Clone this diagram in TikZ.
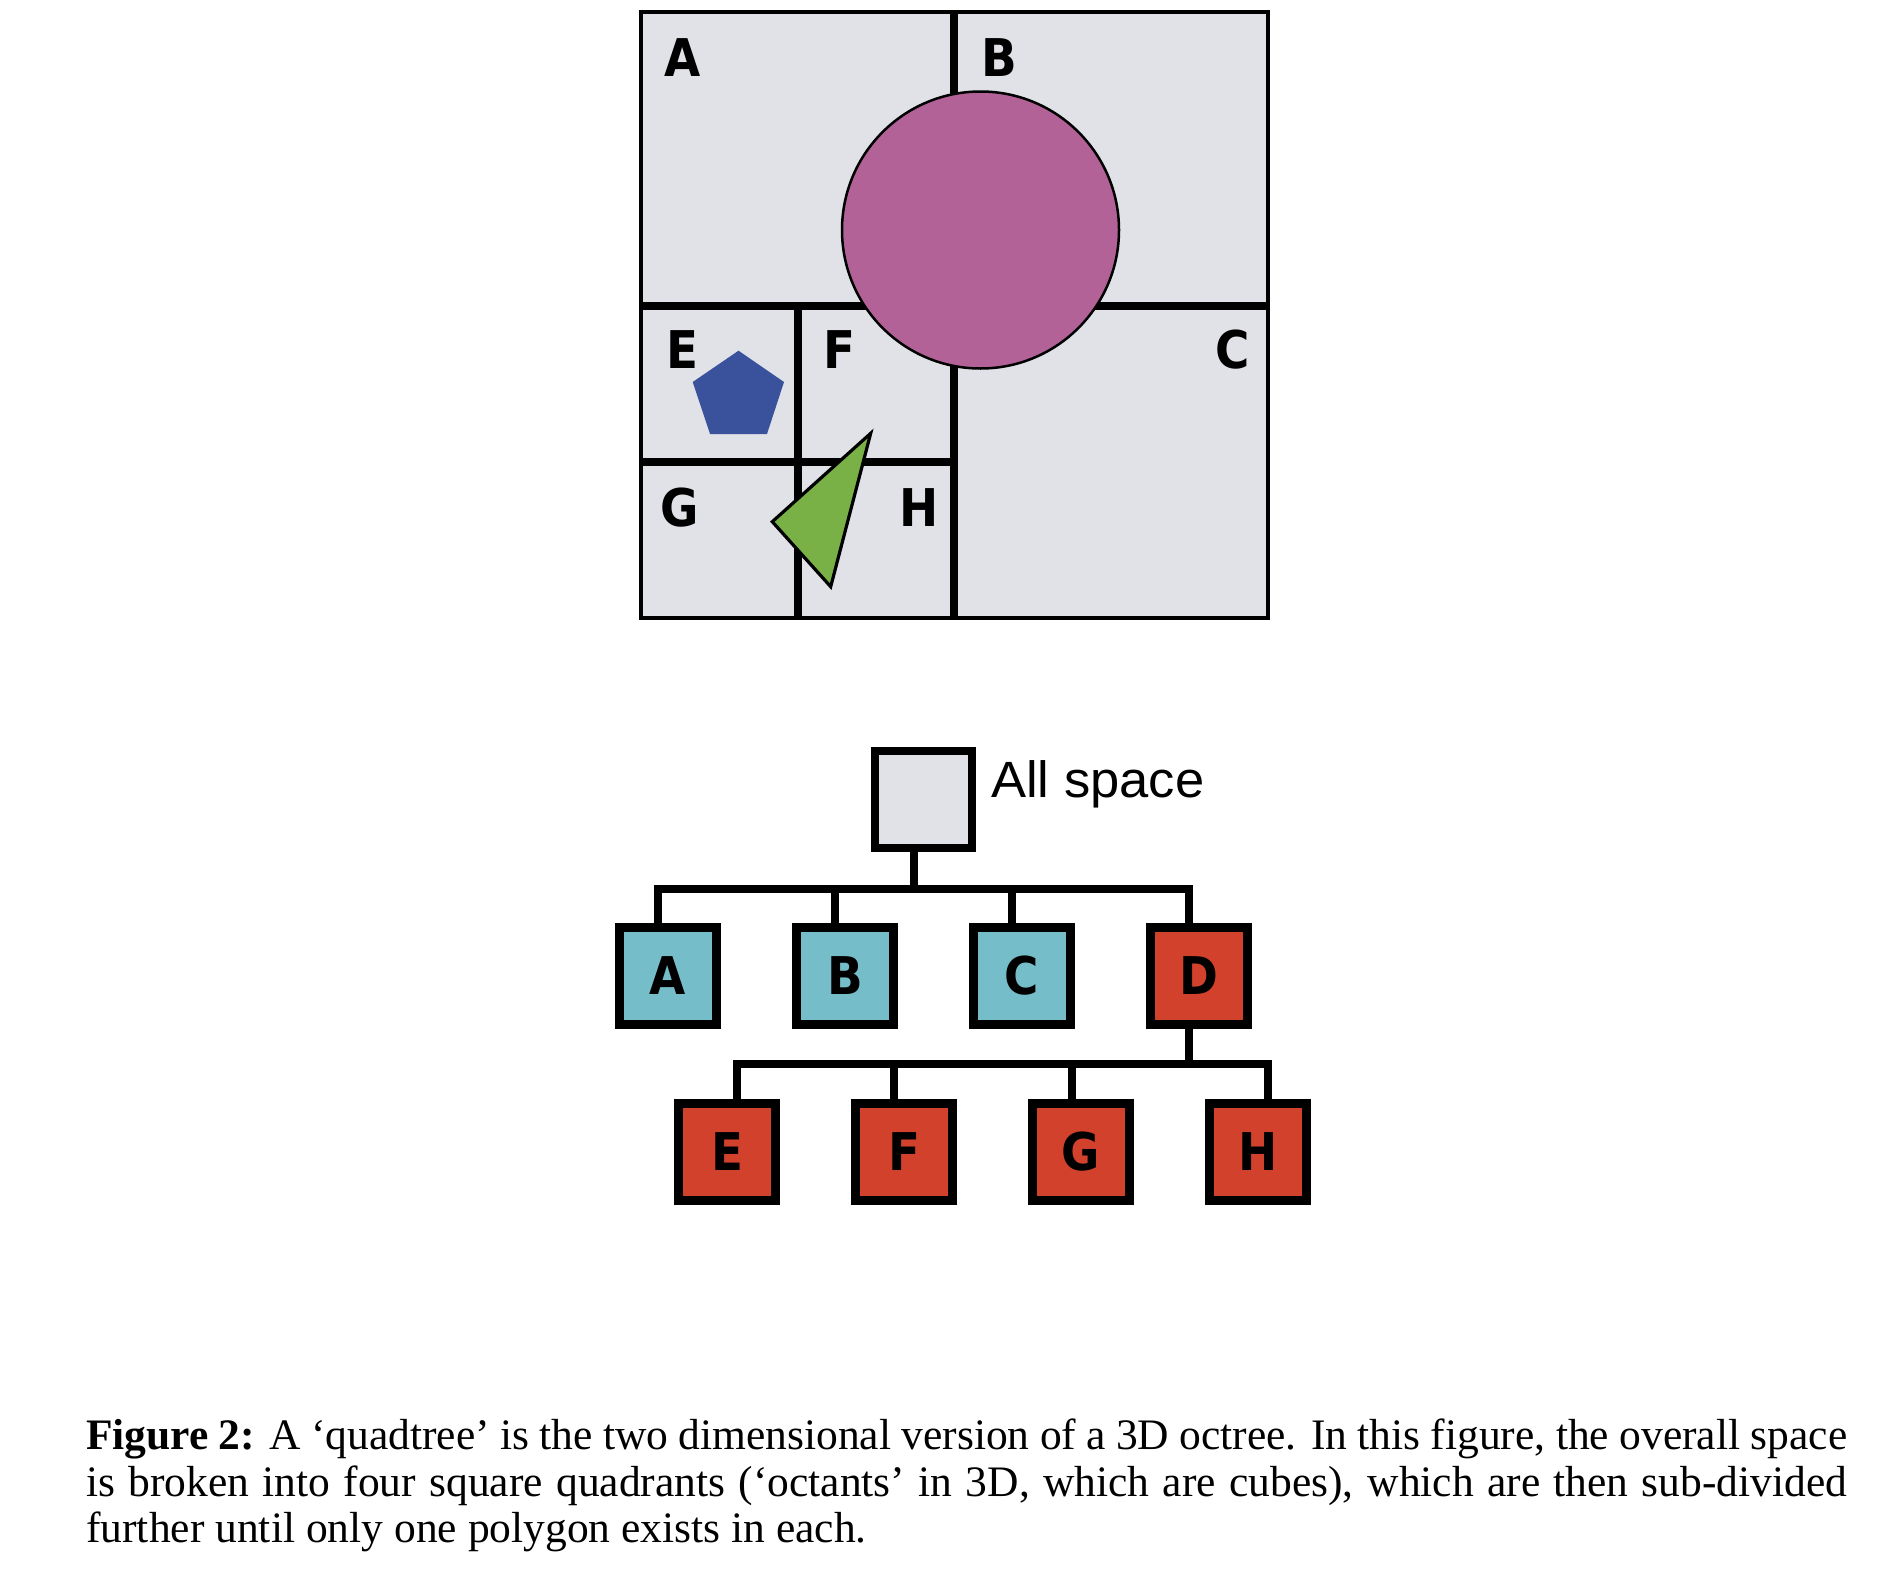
\documentclass[tikz,border=0pt]{standalone}
\usepackage{fontspec}
\setmainfont{Liberation Serif}
\newfontfamily\lblfont{DejaVu Sans}[FakeStretch=0.9]
\newfontfamily\helv{Liberation Sans}[FakeStretch=1.03]
\definecolor{qbg}{RGB}{225,226,232}
\definecolor{circcol}{RGB}{179,98,152}
\definecolor{pentcol}{RGB}{58,81,156}
\definecolor{tricol}{RGB}{122,177,71}
\definecolor{tealcol}{RGB}{117,189,200}
\definecolor{redcol}{RGB}{210,65,44}
\begin{document}
\begin{tikzpicture}[x=1pt,y=-1pt,
  qlabel/.style={inner sep=0pt, font={\lblfont\bfseries\fontsize{52pt}{54pt}\selectfont}},
  tbox/.style={draw, line width=8.5pt, minimum width=97pt, minimum height=97pt, inner sep=0pt,
    font={\lblfont\bfseries\fontsize{52pt}{54pt}\selectfont}},
  conn/.style={line width=8pt},
  qline/.style={line width=8pt},
  capline/.style={anchor=base west, inner sep=0pt, font={\fontsize{43.5pt}{48pt}\selectfont}}]
\fill[white] (0,0) rectangle (1882,1582);
\useasboundingbox (0,0) rectangle (1882,1582);
% quadtree
\fill[qbg] (641,12) rectangle (1268,618);
\draw[qline] (954,12) -- (954,618);
\draw[qline] (641,305.5) -- (1268,305.5);
\draw[qline] (798,305.5) -- (798,618);
\draw[qline] (641,462) -- (954,462);
\draw[line width=4.3pt] (641,12) rectangle (1268,618);
\draw[fill=circcol, line width=2.5pt] (980.5,230) circle[radius=138.5];
\fill[pentcol] (738.5,350.7) -- (784,382) -- (767,434) -- (710,434) -- (692.7,382) -- cycle;
\draw[fill=tricol, line width=3.2pt] (870.7,433.3) -- (772.3,521.7) -- (830.7,586.7) -- cycle;
\node[qlabel] (qA) at (683,58) {A};
\node[qlabel] (qB) at (999,58) {B};
\node[qlabel] (qE) at (682,350) {E};
\node[qlabel] (qF) at (839,350) {F};
\node[qlabel] (qC) at (1233,350) {C};
\node[qlabel] (qG) at (680,507.5) {G};
\node[qlabel] (qH) at (919,507.5) {H};
% tree
\node[tbox, fill=qbg] (root) at (923.5,799.5) {};
\node[anchor=base west, inner sep=0pt, font={\helv\fontsize{51pt}{53pt}\selectfont}] (alls) at (991,797) {All space};
\node[tbox, fill=tealcol] (A) at (668,976) {A};
\node[tbox, fill=tealcol] (B) at (845,976) {B};
\node[tbox, fill=tealcol] (C) at (1022,976) {C};
\node[tbox, fill=redcol] (D) at (1199,976) {D};
\node[tbox, fill=redcol] (E) at (727,1152) {E};
\node[tbox, fill=redcol] (F) at (904,1152) {F};
\node[tbox, fill=redcol] (G) at (1081,1152) {G};
\node[tbox, fill=redcol] (H) at (1258,1152) {H};
\coordinate (j1) at (913.5,888.5);
\coordinate (j2) at (1189,1064);
\draw[conn] ([xshift=-10pt]root.south) -- (j1);
\draw[conn] ([xshift=-10pt]A.north) |- (j1) -| ([xshift=-10pt]D.north);
\draw[conn] ([xshift=-10pt]B.north) -- ([xshift=-10pt]B.north |- j1);
\draw[conn] ([xshift=-10pt]C.north) -- ([xshift=-10pt]C.north |- j1);
\draw[conn] ([xshift=-10pt]D.south) -- (j2);
\draw[conn] ([xshift=10pt]E.north) |- (j2) -| ([xshift=10pt]H.north);
\draw[conn] ([xshift=-10pt]F.north) -- ([xshift=-10pt]F.north |- j2);
\draw[conn] ([xshift=-9pt]G.north) -- ([xshift=-9pt]G.north |- j2);
% caption
\node[capline] (cap1) at (86,1449) {\makebox[1761pt][s]{\textbf{Figure 2:} A ‘quadtree’ is the two dimensional version of a 3D octree. In this figure, the overall space}};
\node[capline] (cap2) at (86,1496) {\makebox[1761pt][s]{is broken into four square quadrants (‘octants’ in 3D, which are cubes), which are then sub-divided}};
\node[capline] (cap3) at (86,1542) {further until only one polygon exists in each.};
\end{tikzpicture}
\end{document}
